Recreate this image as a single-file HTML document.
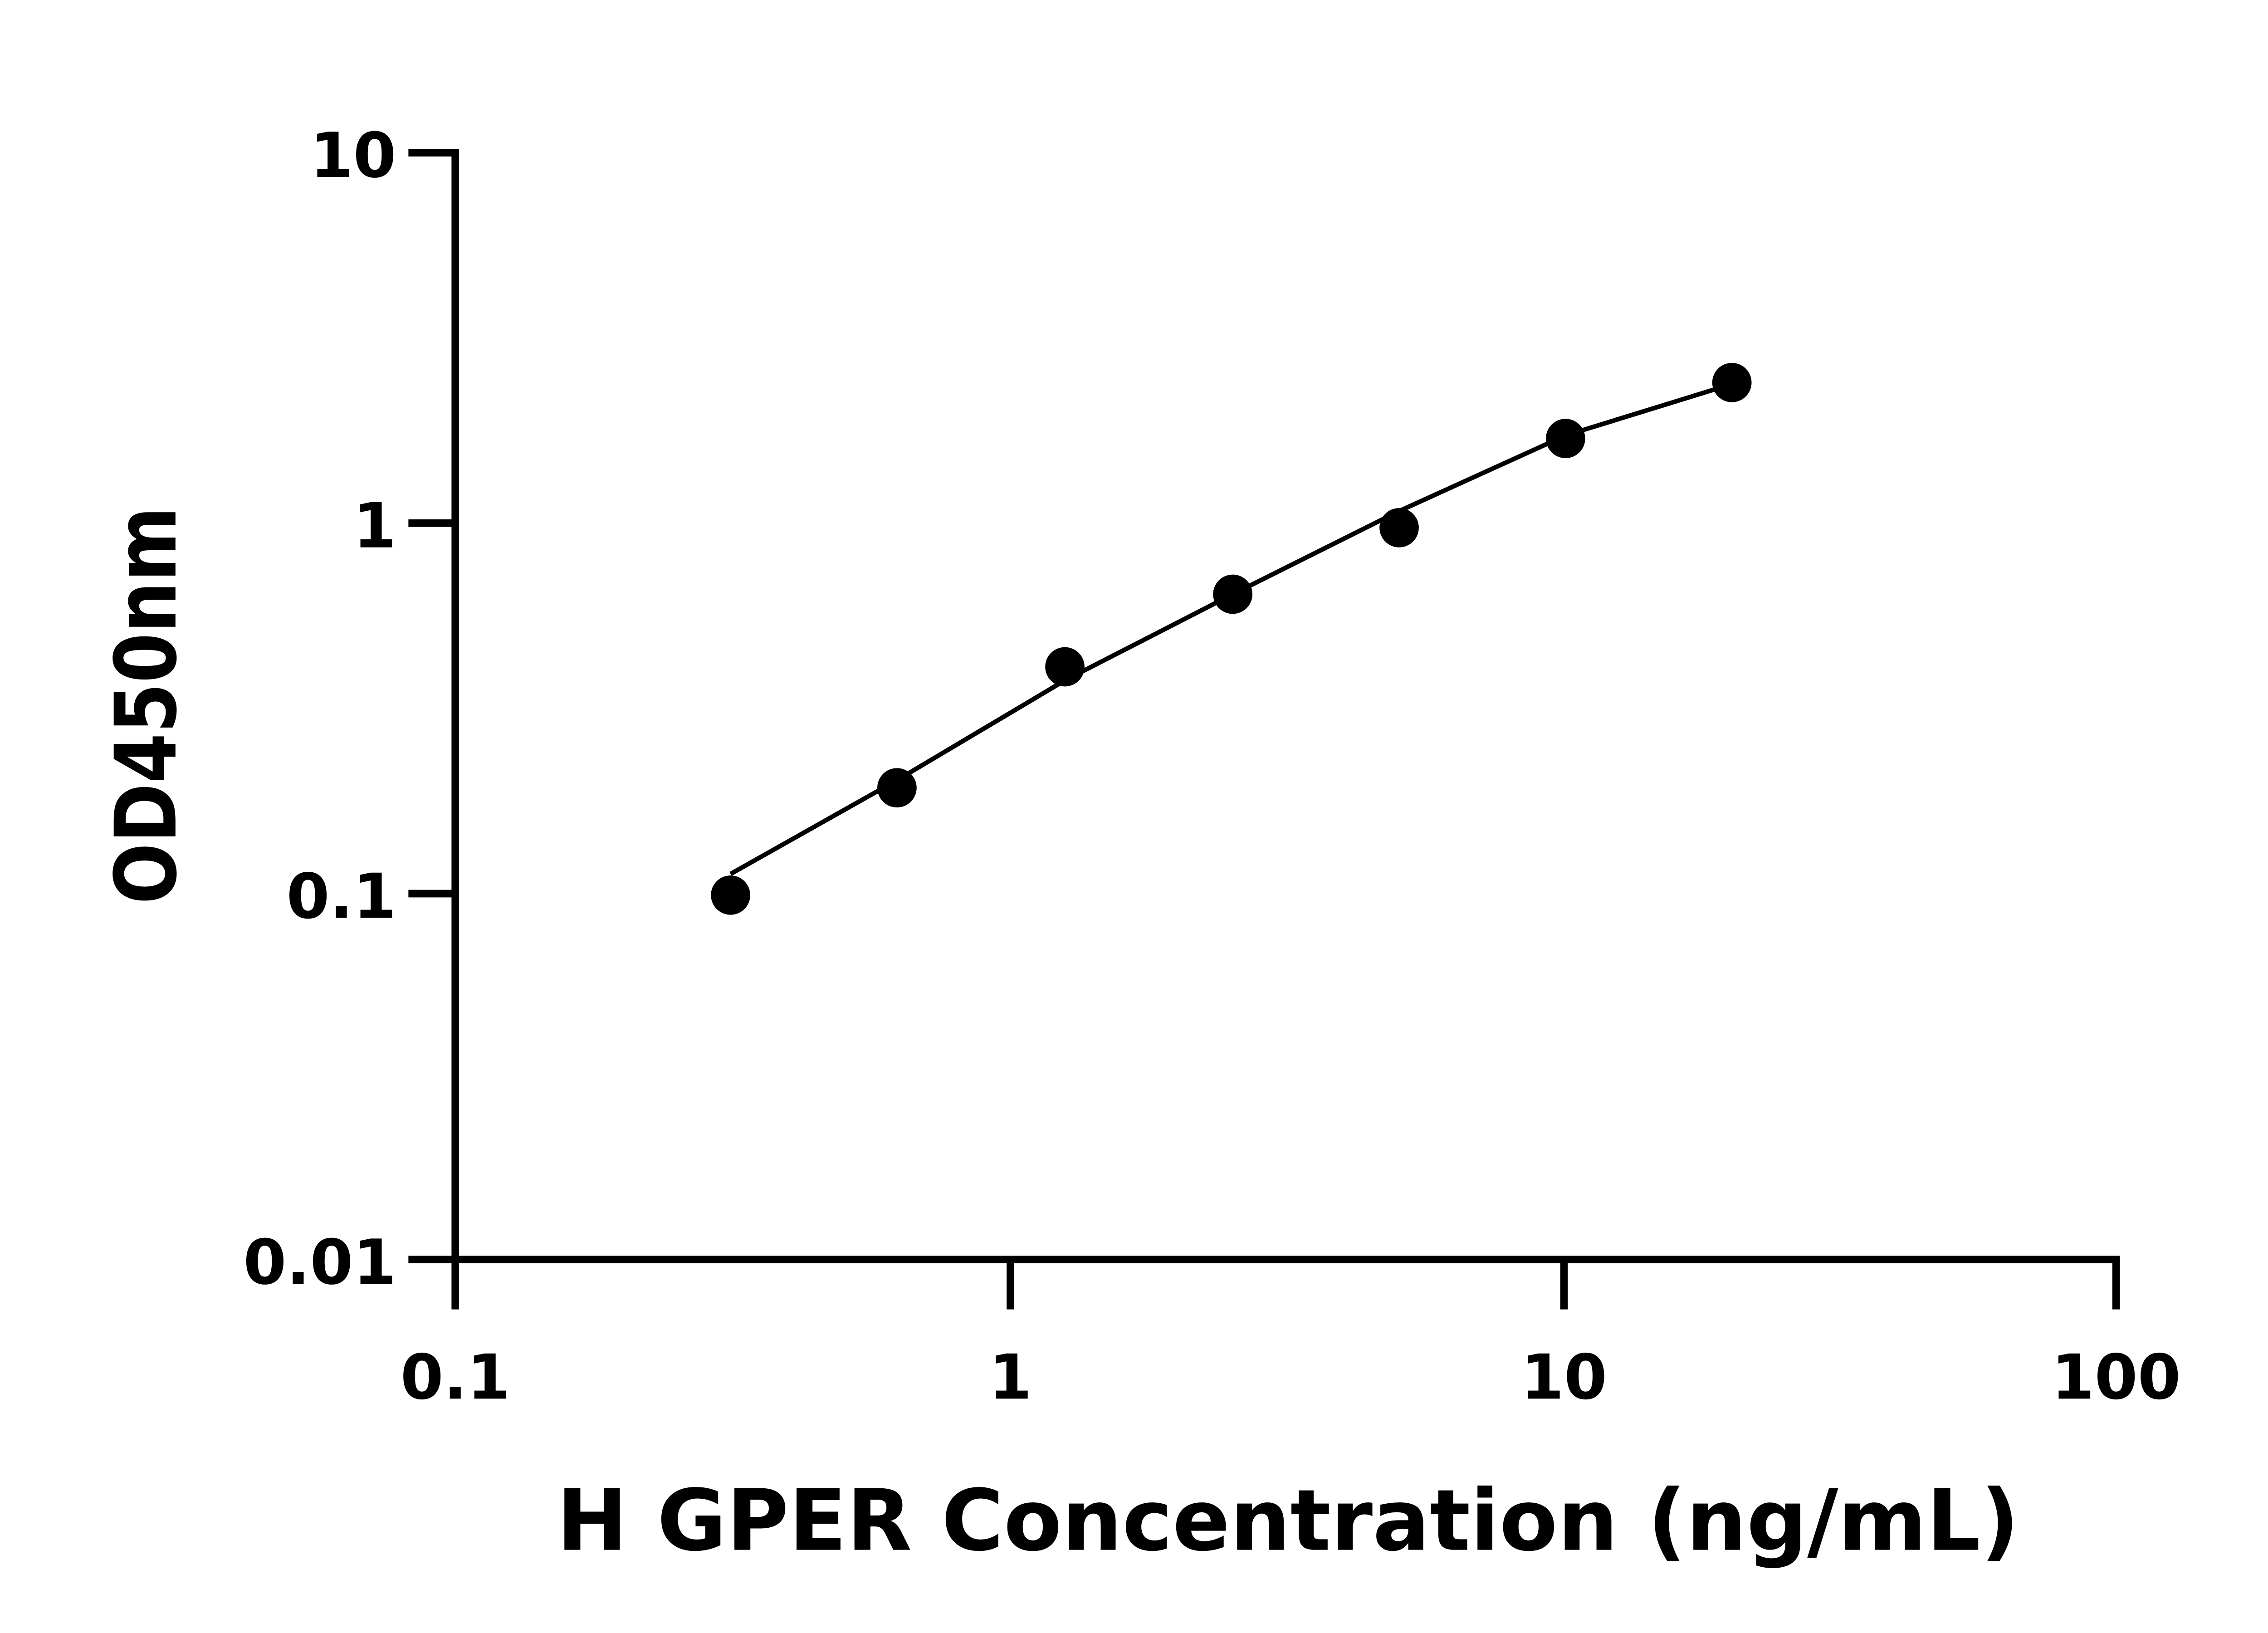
<!DOCTYPE html>
<html><head><style>html,body{margin:0;padding:0;background:#fff}svg{display:block}</style></head>
<body>
<svg width="5142" height="3600" viewBox="0 0 1542 1080" preserveAspectRatio="none" xmlns="http://www.w3.org/2000/svg" font-family="'DejaVu Sans', 'Liberation Sans', sans-serif" font-weight="bold">
<rect width="1542" height="1080" fill="#fff"/>
<g stroke="#000" stroke-width="5" fill="none">
<line x1="301" y1="98.5" x2="301" y2="835.5"/>
<line x1="298.5" y1="833" x2="1401.5" y2="833"/>
<line x1="270" y1="101" x2="301" y2="101"/>
<line x1="270" y1="346" x2="301" y2="346"/>
<line x1="270" y1="591" x2="301" y2="591"/>
<line x1="270" y1="833" x2="301" y2="833"/>
<line x1="301" y1="833" x2="301" y2="866"/>
<line x1="668" y1="833" x2="668" y2="866"/>
<line x1="1034" y1="833" x2="1034" y2="866"/>
<line x1="1399" y1="833" x2="1399" y2="866"/>
</g>
<g font-size="41" text-anchor="end">
<text x="262" y="117">10</text>
<text x="262" y="362">1</text>
<text x="262" y="607">0.1</text>
<text x="262" y="849">0.01</text>
</g>
<g font-size="41" text-anchor="middle">
<text x="301" y="925">0.1</text>
<text x="668" y="925">1</text>
<text x="1034" y="925">10</text>
<text x="1399" y="925">100</text>
</g>
<text x="368" y="1025" font-size="56" textLength="967" lengthAdjust="spacingAndGlyphs">H GPER Concentration (ng/mL)</text>
<text transform="translate(116,598) rotate(-90)" font-size="56" textLength="263" lengthAdjust="spacingAndGlyphs">OD450nm</text>
<polyline fill="none" stroke="#000" stroke-width="3" points="483,578 593,516 704,450 815,393 925,338 1035,288 1145,254"/>
<g fill="#000">
<circle cx="483" cy="592" r="13"/>
<circle cx="593" cy="521" r="13"/>
<circle cx="704" cy="441" r="13"/>
<circle cx="815" cy="393" r="13"/>
<circle cx="925" cy="349" r="13"/>
<circle cx="1035" cy="290" r="13"/>
<circle cx="1145" cy="253" r="13"/>
</g>
</svg>
</body></html>
